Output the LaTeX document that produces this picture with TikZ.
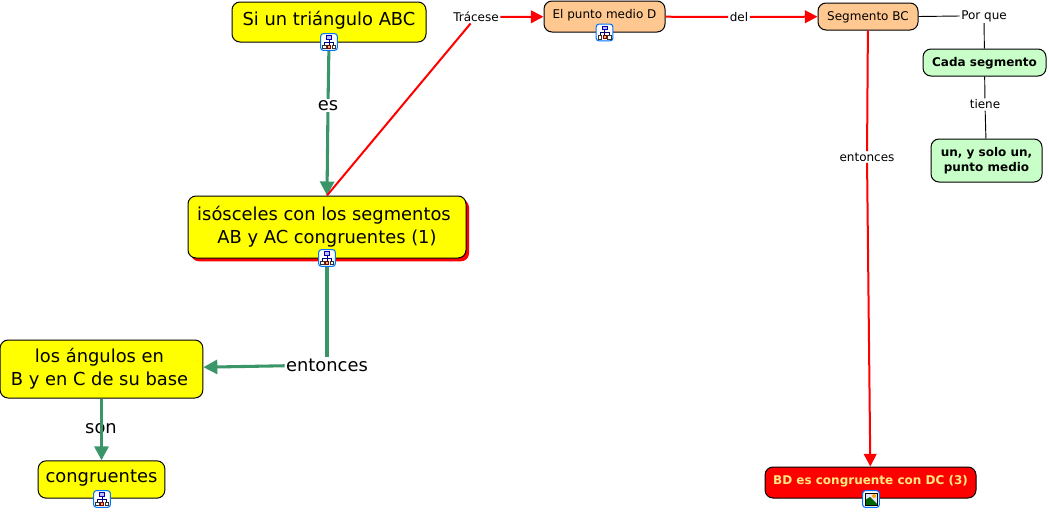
\documentclass[tikz,border=0pt]{standalone}
\usepackage{fontspec}
\setmainfont{DejaVu Sans}
\usetikzlibrary{arrows.meta,shadows}

\definecolor{vientos}{RGB}{58,150,105}
\definecolor{amarillo}{RGB}{255,255,0}
\definecolor{salmon}{RGB}{255,200,145}
\definecolor{verdoso}{RGB}{200,255,200}
\definecolor{crema}{RGB}{255,235,130}
\colorlet{navy}{blue!50!black}

\tikzset{
  concept/.style={draw=black, line width=0.75pt, rounded corners=6pt, inner sep=0pt, align=center},
  grande/.style={concept, fill=amarillo, font=\fontsize{13.4}{17.25}\selectfont},
  chico/.style={concept, fill=salmon, font=\fontsize{9}{11.25}\selectfont},
  verde/.style={concept, fill=verdoso, font=\fontsize{9}{11.25}\selectfont\bfseries},
  enlace/.style={inner sep=1pt, font=\fontsize{9}{11.25}\selectfont},
  enlacegrande/.style={inner sep=1pt, font=\fontsize{13.4}{17.25}\selectfont},
  flechaverde/.style={draw=vientos, line width=2.3pt, -{Triangle[length=10.5pt,width=10.5pt]}},
  lineaverde/.style={draw=vientos, line width=2.3pt},
  flecharoja/.style={draw=red, line width=1.5pt, -{Triangle[length=9.5pt,width=9.5pt]}},
  linearoja/.style={draw=red, line width=1.5pt},
  lineanegra/.style={draw=black, line width=0.7pt},
  iconbox/.style={draw=blue!55!cyan, fill=white, line width=0.8pt, rounded corners=2pt, minimum size=12.5pt, inner sep=0pt},
  mapa/.pic={
    \node[iconbox] (-box) at (0,0) {};
    \draw[navy, line width=0.4pt] (0,-3) -- (0,4) (-4.5,3) -- (-4.5,0) -- (4.5,0) -- (4.5,3);
    \draw[blue!70!black, line width=0.6pt, fill=blue!25] (-2.5,-6.5) rectangle (2.5,-3);
    \draw[black!80, line width=0.6pt, fill=white] (-6.5,3) rectangle (-3,6.5) (3,3) rectangle (6.5,6.5);
    \draw[red!50!black, line width=0.5pt, fill=orange!60] (-1.5,3) rectangle (1.5,6);
  },
  foto/.pic={
    \node[iconbox] (-box) at (0,0) {};
    \fill[blue!10] (-6,-6) rectangle (6,6);
    \fill[green!40!black] (-6,6) -- (-6,1) -- (-1,-2) -- (6,5) -- (6,6) -- cycle;
    \fill[orange!70!yellow] (3,-3) circle[radius=2];
    \draw[black, line width=0.5pt] (-6,-6) rectangle (6,6);
  }
}

\begin{document}
\begin{tikzpicture}[x=0.75pt,y=-0.75pt]
  \useasboundingbox (0,0) rectangle (1049,511);

  \node[grande, minimum width=145.5pt, minimum height=30pt, text depth=6pt] (triangulo) at (329,22) {Si un triángulo ABC};
  \node[grande, minimum width=208.5pt, minimum height=46.5pt,
    drop shadow={shadow xshift=2.25pt, shadow yshift=-2.5pt, fill=red, opacity=1}] (isosceles) at (327,227)
    {isósceles con los segmentos\hspace{4.5pt}\mbox{}\\AB y AC congruentes (1)};
  \node[grande, minimum width=152pt, minimum height=43.5pt] (angulos) at (101.5,369) {los ángulos en\hspace{3pt}\mbox{}\\B y en C de su base\hspace{3pt}\mbox{}};
  \node[grande, minimum width=95pt, minimum height=28pt, text depth=4.5pt] (congruentes) at (101.5,479.5) {congruentes};
  \node[chico, minimum width=90.75pt, minimum height=23.25pt, text depth=4pt] (puntomedio) at (604.5,16.5) {El punto medio D};
  \node[chico, minimum width=75pt, minimum height=20.25pt, text height=8pt] (segmento) at (868,16.5) {Segmento BC};
  \node[verde, minimum width=92.25pt, minimum height=20.25pt, text height=8.5pt] (cada) at (984.5,62.5) {Cada segmento};
  \node[verde, minimum width=83.25pt, minimum height=32.25pt] (unico) at (986.5,160.5) {un, y solo un,\\punto medio};
  \node[verde, fill=red, text=crema, minimum width=158.25pt, minimum height=23.25pt, text depth=4pt] (bd) at (870.5,482.5) {BD es congruente con DC (3)};

  \pic (icontriangulo) at (329,42) {mapa};
  \pic (iconisosceles) at (327,258) {mapa};
  \pic (iconcongruentes) at (102,499) {mapa};
  \pic (iconpunto) at (604.5,32.5) {mapa};
  \pic (iconbd) at (871,499) {foto};

  \node[enlacegrande] (es) at (328,105.5) {es};
  \node[enlacegrande] (entoncesa) at (327,365) {entonces};
  \node[enlacegrande] (son) at (101,428.5) {son};
  \node[enlace] (tracese) at (476,17) {Trácese};
  \node[enlace] (del) at (739,17) {del};
  \node[enlace] (porque) at (984,16) {Por que};
  \node[enlace] (tiene) at (985,104.5) {tiene};
  \node[enlace] (entoncesb) at (867,157) {entonces};

  \draw[lineaverde] (icontriangulo-box) -- (es);
  \draw[flechaverde] (es) -- (isosceles.north);
  \draw[lineaverde] (iconisosceles-box) -- (entoncesa);
  \draw[flechaverde] (entoncesa) -- (angulos);
  \draw[flechaverde] (angulos) -- (congruentes);

  \draw[linearoja] (isosceles.north) -- (tracese);
  \draw[flecharoja] (tracese) -- (puntomedio);
  \draw[linearoja] (puntomedio) -- (del);
  \draw[flecharoja] (del) -- (segmento);
  \draw[linearoja] (segmento) -- (entoncesb);
  \draw[flecharoja] (entoncesb) -- (bd);

  \draw[lineanegra] (segmento.east) -- (porque.west);
  \draw[lineanegra] (porque) -- (cada);
  \draw[lineanegra] (cada) -- (tiene);
  \draw[lineanegra] (tiene) -- (unico);
\end{tikzpicture}
\end{document}
